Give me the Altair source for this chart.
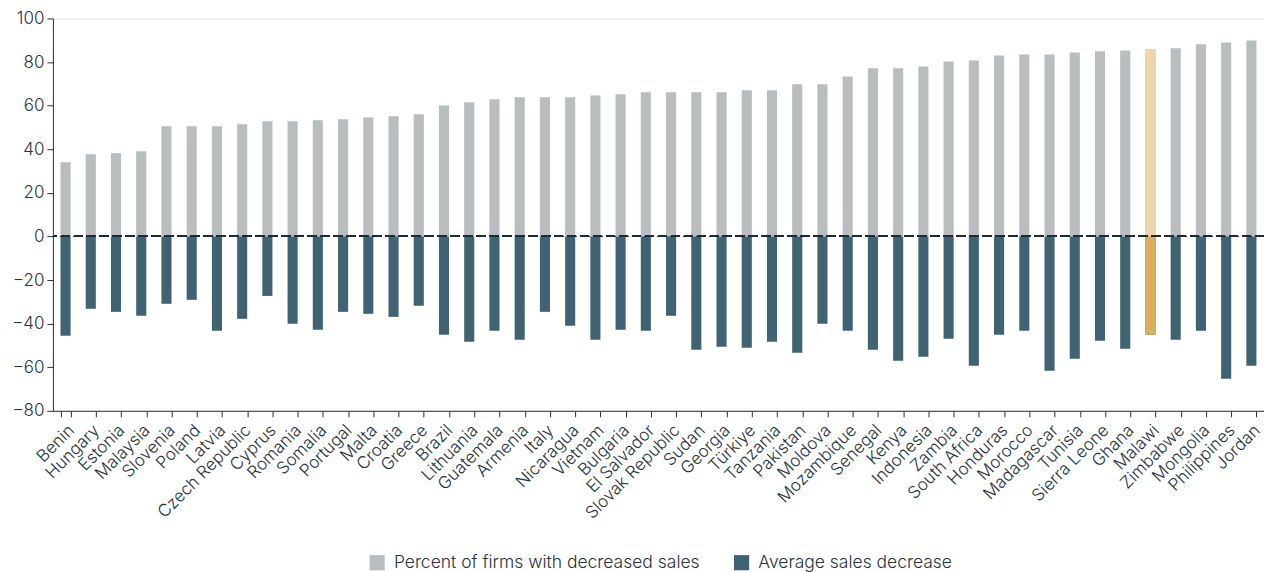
import altair as alt
import pandas as pd

countries = ["Benin", "Hungary", "Estonia", "Malaysia", "Slovenia", "Poland", "Latvia",
             "Czech Republic", "Cyprus", "Romania", "Somalia", "Portugal", "Malta", "Croatia",
             "Greece", "Brazil", "Lithuania", "Guatemala", "Armenia", "Italy", "Nicaragua",
             "Vietnam", "Bulgaria", "El Salvador", "Slovak Republic", "Sudan", "Georgia",
             "Türkiye", "Tanzania", "Pakistan", "Moldova", "Mozambique", "Senegal", "Kenya",
             "Indonesia", "Zambia", "South Africa", "Honduras", "Morocco", "Madagascar",
             "Tunisia", "Sierra Leone", "Ghana", "Malawi", "Zimbabwe", "Mongolia",
             "Philippines", "Jordan"]

pct_decreased = [34.0, 37.7, 38.2, 39.1, 50.5, 50.5, 50.5, 51.4, 52.8, 52.8, 53.3, 53.7,
                 54.6, 55.1, 56.0, 60.1, 61.5, 62.9, 63.8, 63.8, 63.8, 64.7, 65.2, 66.1,
                 66.1, 66.1, 66.1, 67.0, 67.0, 69.8, 69.8, 73.4, 77.1, 77.1, 78.0, 80.3,
                 80.7, 83.0, 83.5, 83.5, 84.4, 84.9, 85.3, 85.8, 86.3, 88.1, 89.0, 89.9]

avg_decrease = [-45.6, -33.2, -34.6, -36.4, -30.9, -29.1, -43.3, -37.8, -27.3, -40.1,
                -42.8, -34.6, -35.5, -36.9, -31.8, -45.1, -48.3, -43.3, -47.4, -34.6,
                -41.0, -47.4, -42.8, -43.3, -36.4, -52.0, -50.6, -51.1, -48.3, -53.4,
                -40.1, -43.3, -52.0, -57.0, -55.2, -47.0, -59.3, -45.1, -43.3, -61.6,
                -56.1, -47.9, -51.5, -45.1, -47.4, -43.3, -65.3, -59.3]

series_names = ["Percent of firms with decreased sales", "Average sales decrease"]
series_colors = ["#b8bdc0", "#406373"]
highlight_country = "Malawi"
highlight_colors = ["#edd6aa", "#d9ae5e"]

rows = []
for c, p, a in zip(countries, pct_decreased, avg_decrease):
    rows.append({"country": c, "series": series_names[0], "value": p})
    rows.append({"country": c, "series": series_names[1], "value": a})
df = pd.DataFrame(rows)

FONT = "Inter"
TXT = "#27333d"

x_enc = alt.X("country:N", sort=countries,
              scale=alt.Scale(paddingInner=0.6, paddingOuter=0.3),
              axis=alt.Axis(title=None, labelAngle=-45, labelFontSize=17, labelColor=TXT,
                            labelFont=FONT, labelFontWeight=300, tickBand="extent",
                            tickSize=6, tickColor=TXT, domainColor=TXT, labelPadding=5,
                            labelOverlap=False))
y_enc = alt.Y("value:Q",
              scale=alt.Scale(domain=[-80, 100], nice=False),
              axis=alt.Axis(title=None, values=list(range(-80, 101, 20)), grid=False,
                            labelFontSize=17, labelColor=TXT, labelFont=FONT,
                            labelFontWeight=300, tickSize=6,
                            tickColor=TXT, domainColor=TXT, labelPadding=3))

bars = alt.Chart(df).mark_bar().encode(
    x=x_enc,
    y=y_enc,
    color=alt.Color("series:N",
                    scale=alt.Scale(domain=series_names, range=series_colors),
                    legend=alt.Legend(title=None, orient="none", direction="horizontal",
                                      legendX=316, legendY=536, symbolType="square",
                                      symbolSize=230, symbolStrokeWidth=0,
                                      labelFontSize=17.5, labelFont=FONT, labelFontWeight=300,
                                      labelColor=TXT, labelLimit=500, labelOffset=8,
                                      columnPadding=33, symbolOffset=0)),
)

hl = alt.Chart(df).transform_filter(
    alt.datum.country == highlight_country
).mark_bar().encode(
    x=alt.X("country:N", sort=countries),
    y=alt.Y("value:Q"),
    color=alt.Color("series:N",
                    scale=alt.Scale(domain=series_names, range=highlight_colors),
                    legend=None),
)

zero = alt.Chart(df).mark_rule(color="#1f2b35", strokeDash=[9, 4], strokeWidth=1.4).encode(
    y=alt.datum(0)
)

chart = alt.layer(bars, hl, zero).resolve_scale(color="independent").properties(
    width=1213, height=393,
    autosize=alt.AutoSizeParams(type="none"),
    padding={"left": 45, "top": 10, "right": 0, "bottom": 162},
).configure_view(stroke=None).configure(font=FONT)

chart.save("out.html", embed_options={"renderer": "svg", "actions": False})
